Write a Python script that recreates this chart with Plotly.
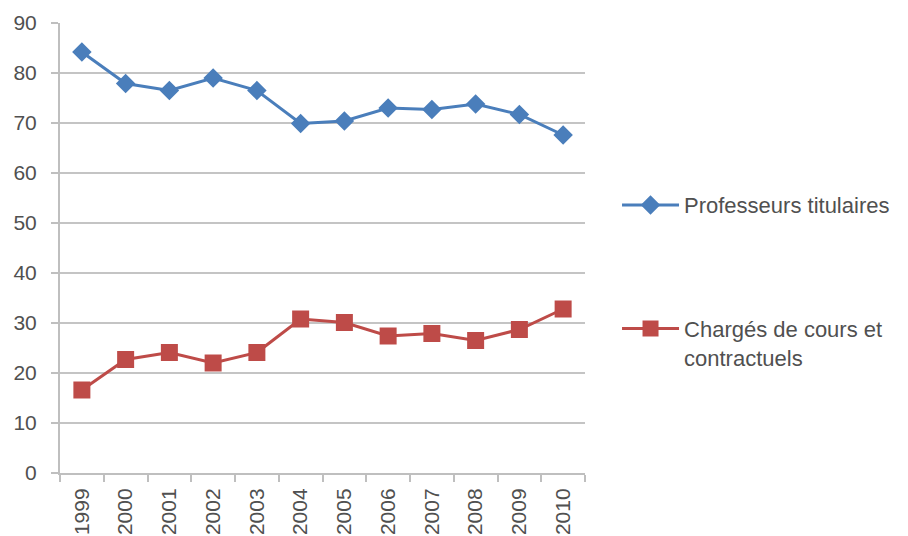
import plotly.graph_objects as go

years = ["1999", "2000", "2001", "2002", "2003", "2004", "2005", "2006", "2007", "2008", "2009", "2010"]
professeurs = [84.2, 77.9, 76.5, 79.0, 76.5, 69.9, 70.4, 73.0, 72.7, 73.8, 71.7, 67.6]
charges = [16.6, 22.7, 24.1, 22.0, 24.1, 30.8, 30.1, 27.4, 27.9, 26.5, 28.7, 32.8]
name_prof = "Professeurs titulaires"
name_charges = "Chargés de cours et<br>contractuels"
y_ticks = [0, 10, 20, 30, 40, 50, 60, 70, 80, 90]

BLUE = "#4a7ebb"
RED = "#be4b48"
TEXT = "#505050"
FONT = dict(family="Liberation Sans, Arial, sans-serif", size=22, color=TEXT)

fig = go.Figure()
fig.add_trace(go.Scatter(
    x=years, y=professeurs, name=name_prof, mode="lines+markers",
    line=dict(color=BLUE, width=3),
    marker=dict(symbol="diamond", size=15, color=BLUE),
    legendgroup="a",
))
fig.add_trace(go.Scatter(
    x=years, y=charges, name=name_charges, mode="lines+markers",
    line=dict(color=RED, width=3),
    marker=dict(symbol="square", size=17, color=RED),
    legendgroup="b",
))

# page has an 8px body margin, so the figure is sized 900x528 and offset
fig.update_layout(
    width=900, height=528,
    margin=dict(l=52, r=323, t=15, b=63),
    paper_bgcolor="white", plot_bgcolor="white",
    font=FONT,
    showlegend=True,
    legend=dict(
        x=1.061, xanchor="left", y=0.642, yanchor="top",
        tracegroupgap=92, itemwidth=57, valign="top",
        font=dict(size=22, color=TEXT),
        bgcolor="rgba(0,0,0,0)",
    ),
)
fig.update_xaxes(
    type="category", tickangle=-90, range=[-0.5, 11.5],
    showline=True, linecolor="#bfbfbf", linewidth=2,
    ticks="outside", tickson="boundaries", ticklen=7, tickcolor="#bfbfbf", tickwidth=2,
    ticklabelstandoff=5,
    showgrid=False, automargin=False,
    tickfont=dict(size=21),
)
fig.update_yaxes(
    range=[0, 90], tickvals=y_ticks,
    showline=True, linecolor="#bfbfbf", linewidth=2,
    ticks="outside", ticklen=7, tickcolor="#bfbfbf", tickwidth=2,
    ticklabelstandoff=10,
    showgrid=True, gridcolor="#c4c4c4", gridwidth=2,
    zeroline=False, automargin=False,
    tickfont=dict(size=21),
)

fig.write_html("out.html")
